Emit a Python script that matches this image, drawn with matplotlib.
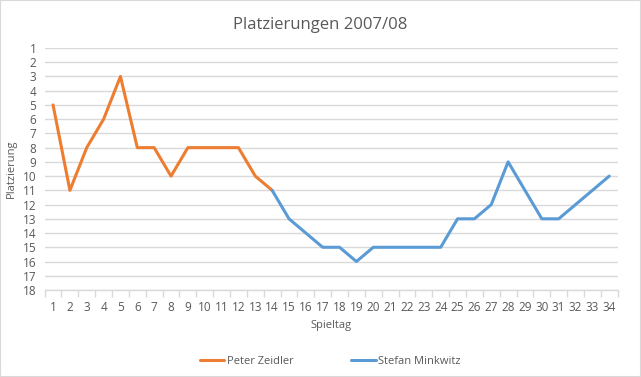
"""
Platzierungen 2007/08 - Liniendiagramm
"""

import matplotlib.pyplot as plt
import numpy as np

# ── Daten ──────────────────────────────────────────
SPIELTAGE = list(range(1, 35))
ZEIDLER = [5, 11, 8, 6, 3, 8, 8, 10, 8, 8, 8, 8, 10, 11]          # Spieltag 1-14
MINKWITZ = [11, 13, 14, 15, 15, 16, 15, 15, 15, 15, 15,             # Spieltag 14-34
            13, 13, 12, 9, 11, 13, 13, 12, 11, 10]
Y_TICKS = list(range(1, 19))

ORANGE = "#ED7D31"
BLUE = "#5B9BD5"
GRID = "#D9D9D9"
TEXT = "#595959"

plt.rcParams["font.family"] = ["Open Sans", "DejaVu Sans"]

# ── Serien auf volle Länge bringen ────────────────
zeidler = np.full(len(SPIELTAGE), np.nan)
zeidler[:len(ZEIDLER)] = ZEIDLER
minkwitz = np.full(len(SPIELTAGE), np.nan)
minkwitz[len(SPIELTAGE) - len(MINKWITZ):] = MINKWITZ

# ── Chart ─────────────────────────────────────────
fig = plt.figure(figsize=(6.41, 3.77), dpi=100)
ax = fig.add_axes([0.0696, 0.2308, 0.894, 0.6419])

ax.plot(SPIELTAGE, zeidler, color=ORANGE, linewidth=2.2, label="Peter Zeidler",
        solid_joinstyle="round", solid_capstyle="round")
ax.plot(SPIELTAGE, minkwitz, color=BLUE, linewidth=2.2, label="Stefan Minkwitz",
        solid_joinstyle="round", solid_capstyle="round")

ax.set_xlim(0.5, 34.5)
ax.set_ylim(18, 1)
ax.set_yticks(Y_TICKS)
ax.set_xticks(SPIELTAGE)
ax.set_xticks(np.arange(0.5, 35, 1), minor=True)

ax.grid(axis="y", color=GRID, linewidth=1)
ax.set_axisbelow(True)
for side in ["top", "right", "left"]:
    ax.spines[side].set_visible(False)
ax.spines["bottom"].set_color(GRID)
ax.spines["bottom"].set_linewidth(1)

ax.tick_params(axis="y", length=0, labelsize=8.5, colors=TEXT, pad=6)
ax.tick_params(axis="x", which="major", length=0, labelsize=8.5, colors=TEXT, pad=8)
ax.tick_params(axis="x", which="minor", length=5, color=GRID, width=1)

ax.set_xlabel("Spieltag", fontsize=8, color=TEXT, labelpad=4)
ax.set_ylabel("Platzierung", fontsize=8, color=TEXT, labelpad=4)
fig.text(0.5, 0.934, "Platzierungen 2007/08", fontsize=12, color=TEXT,
         ha="center", va="center")

fig.legend(loc="lower center", bbox_to_anchor=(0.515, 0.0), ncol=2, frameon=False,
           fontsize=8, handlelength=2.2, handletextpad=0.2, columnspacing=5.2,
           labelcolor=TEXT)

# Rahmen
fig.patches.append(plt.Rectangle((0, 0), 1, 1, transform=fig.transFigure,
                                 fill=False, edgecolor=GRID, linewidth=1.5))

fig.savefig("out.png", dpi=100, facecolor="white")
plt.close(fig)
